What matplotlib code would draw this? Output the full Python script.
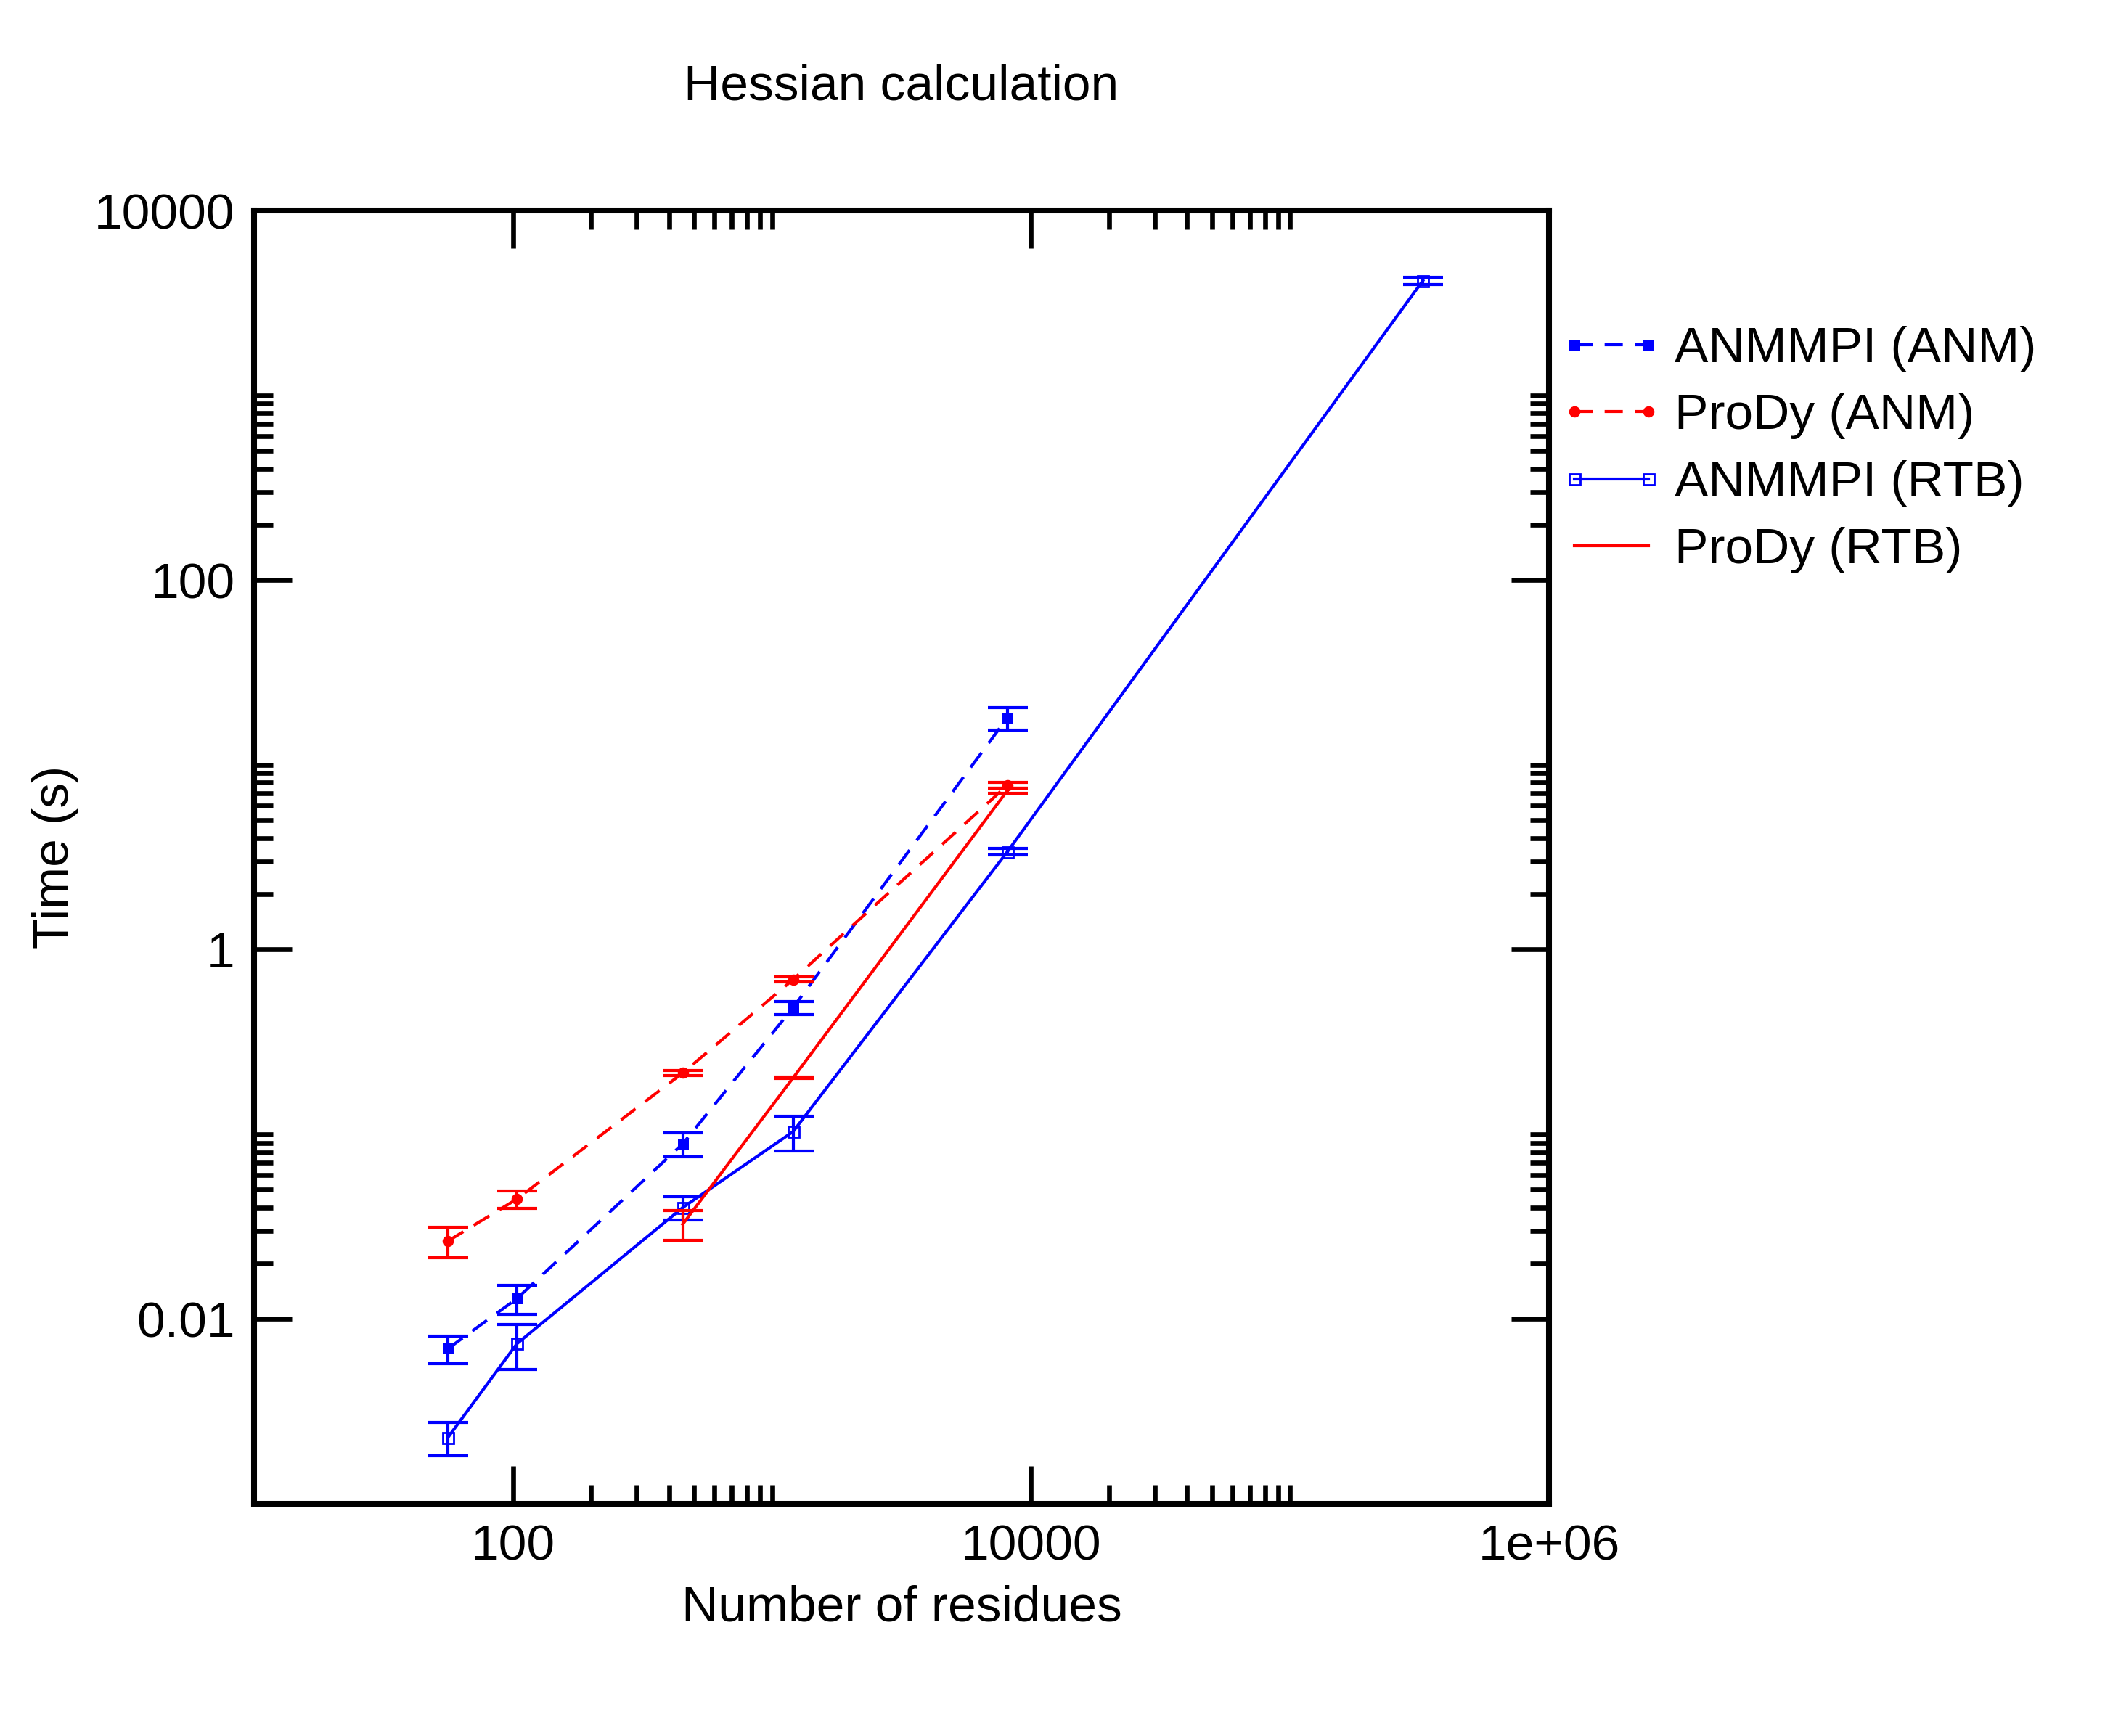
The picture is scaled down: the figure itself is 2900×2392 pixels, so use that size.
import matplotlib
matplotlib.use("Agg")
import matplotlib.pyplot as plt
from matplotlib.legend_handler import HandlerLine2D
from matplotlib.ticker import NullFormatter

plt.rcParams['font.family'] = ['Liberation Sans', 'DejaVu Sans']

# number of residues of the test systems
n_res = [56, 103.5, 452, 1206, 8104]
n_res_big = [56, 103.5, 452, 1206, 8104, 326000]
n_res_prody_rtb = [452, 1206, 8104]

# timings (s) and their spread
anmmpi_anm = [0.0069, 0.0129, 0.0887, 0.4845, 17.96]
anmmpi_anm_err = [0.00115, 0.0023, 0.013, 0.04, 2.5]
prody_anm = [0.0264, 0.0446, 0.2146, 0.688, 7.74]
prody_anm_err = [0.005, 0.0048, 0.007, 0.02, 0.27]
anmmpi_rtb = [0.00228, 0.00735, 0.0401, 0.1033, 3.383, 4177]
anmmpi_rtb_err = [0.00047, 0.002, 0.0059, 0.022, 0.14, 190]
prody_rtb = [0.0326, 0.202, 7.25]
prody_rtb_err = [0.006, 0.002, 0.21]

x_major = [1e2, 1e4, 1e6]
x_major_labels = ['100', '10000', '1e+06']
x_minor = [k * 1e2 for k in range(2, 11)] + [k * 1e4 for k in range(2, 11)]
y_major = [1e-2, 1, 1e2, 1e4]
y_major_labels = ['0.01', '1', '100', '10000']
y_minor = ([k * 1e-2 for k in range(2, 11)] + [k * 1.0 for k in range(2, 11)]
           + [k * 1e2 for k in range(2, 11)])

FS = 25
LW = 1.5
DASH = (0, (6, 4))

fig = plt.figure(figsize=(14.5, 11.96), dpi=200)
ax = fig.add_axes([350 / 2900, 1 - 2072 / 2392, (2134 - 350) / 2900, (2072 - 290) / 2392])
ax.set_xscale('log')
ax.set_yscale('log')

err_kw = dict(fmt='none', elinewidth=LW, capsize=9.9, capthick=LW)

l1, = ax.plot(n_res, anmmpi_anm, color='blue', lw=LW, ls=DASH, marker='s', ms=5.4, mew=0,
              label='ANMMPI (ANM)')
ax.errorbar(n_res, anmmpi_anm, yerr=anmmpi_anm_err, ecolor='blue', **err_kw)

l2, = ax.plot(n_res, prody_anm, color='red', lw=LW, ls=DASH, marker='o', ms=5.6, mew=0,
              label='ProDy (ANM)')
ax.errorbar(n_res, prody_anm, yerr=prody_anm_err, ecolor='red', **err_kw)

l3, = ax.plot(n_res_big, anmmpi_rtb, color='blue', lw=LW, marker='s', ms=5.4, mfc='none',
              mew=1.0, label='ANMMPI (RTB)')
ax.errorbar(n_res_big, anmmpi_rtb, yerr=anmmpi_rtb_err, ecolor='blue', **err_kw)

l4, = ax.plot(n_res_prody_rtb, prody_rtb, color='red', lw=LW, label='ProDy (RTB)')
ax.errorbar(n_res_prody_rtb, prody_rtb, yerr=prody_rtb_err, ecolor='red', **err_kw)

ax.set_xlim(10, 1e6)
ax.set_ylim(1e-3, 1e4)
ax.set_xticks(x_major, labels=x_major_labels)
ax.set_xticks(x_minor, minor=True)
ax.set_yticks(y_major, labels=y_major_labels)
ax.set_yticks(y_minor, minor=True)
ax.xaxis.set_minor_formatter(NullFormatter())
ax.yaxis.set_minor_formatter(NullFormatter())

for s in ax.spines.values():
    s.set_linewidth(2.9)
ax.tick_params(which='both', direction='in', top=True, right=True, width=2.4,
               labelsize=FS, color='black')
ax.tick_params(which='major', length=18.7)
ax.tick_params(which='minor', length=9.5)
ax.tick_params(axis='x', which='major', pad=10)
ax.tick_params(axis='y', which='major', pad=9.5)

ax.set_title('Hessian calculation', fontsize=FS, pad=55)
ax.set_xlabel('Number of residues', fontsize=FS, labelpad=7)
ax.set_ylabel('Time (s)', fontsize=FS, labelpad=8)

hm = {h: HandlerLine2D(numpoints=2, marker_pad=0) for h in (l1, l2, l3, l4)}
ax.legend(handles=[l1, l2, l3, l4], handler_map=hm, frameon=False, fontsize=FS,
          loc='upper left', bbox_to_anchor=(2169 / 2900, 1 - 449 / 2392),
          bbox_transform=fig.transFigure, borderpad=0, borderaxespad=0,
          handlelength=1.47, handletextpad=0.52, labelspacing=0.41)

fig.savefig('out.png', dpi=200, facecolor='white')
